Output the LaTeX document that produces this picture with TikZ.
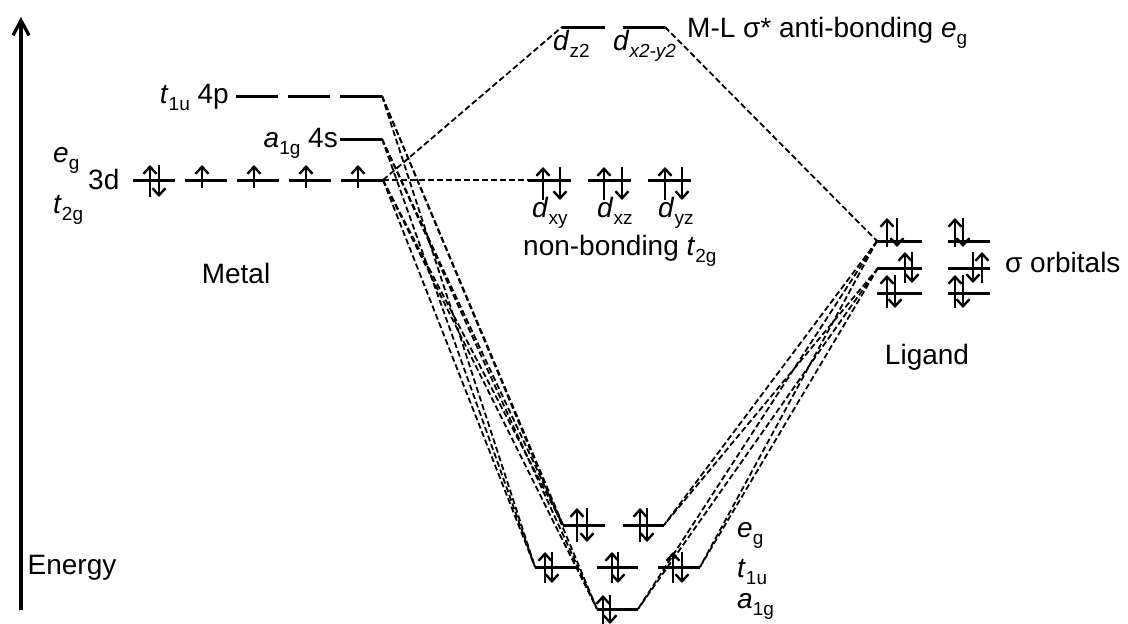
\documentclass[tikz,border=0pt]{standalone}
\usepackage{fontspec}
\setmainfont{Liberation Sans}
\usetikzlibrary{arrows.meta}
\newcommand{\orbsub}[1]{\raisebox{-0.28em}{\fontsize{19}{19}\selectfont #1}}

\begin{document}
\begin{tikzpicture}[x=1pt, y=-1pt,
    font=\fontsize{28}{32}\selectfont,
    lvl/.style={line width=3pt},
    spin/.style={line width=2.4pt, -{Straight Barb[length=7pt,width=13pt]}},
    conn/.style={line width=1.8pt, dash pattern=on 6pt off 3pt},
    lbl/.style={inner sep=0pt}
]
\useasboundingbox (0,0) rectangle (1128,624);

\coordinate (axbot) at (21,610);
\coordinate (axtop) at (21,17);
\draw[line width=3.2pt, -{Straight Barb[length=15pt,width=16pt]}] (axbot) -- (axtop);
\node[lbl] (energy) at (72,568) {Energy};

\foreach \x in {133,185,237,289,341} \draw[lvl] (\x,180) -- ++(42,0);
\foreach \x in {236,288,340} \draw[lvl] (\x,96) -- ++(42,0);
\draw[lvl] (340,139) -- (382,139);
\coordinate (d3) at (383,180);
\coordinate (s4) at (382,139);
\coordinate (p4) at (382,96);
\node[lbl, anchor=base east] (t1ulbl) at (229,103) {\textit{t}\orbsub{1u} 4p};
\node[lbl, anchor=base east] (a1glbl) at (338,147) {\textit{a}\orbsub{1g} 4s};
\node[lbl, anchor=base west] (eglbl) at (53,162) {\textit{e}\orbsub{g}};
\node[lbl, anchor=base west] (dlbl) at (88,189) {3d};
\node[lbl, anchor=base west] (t2glbl) at (53,213) {\textit{t}\orbsub{2g}};
\node[lbl] (metal) at (236,273) {Metal};

\draw[lvl] (562,27) -- (605,27);
\draw[lvl] (623,27) -- (665,27);
\coordinate (dzL) at (562,27);
\coordinate (dxR) at (665,27);
\node[lbl, anchor=base west] (dzlbl) at (553,50) {\textit{d}\orbsub{z2}};
\node[lbl, anchor=base west] (dxlbl) at (613,50) {\textit{d}\orbsub{\textit{x2-y2}}};
\node[lbl, anchor=base west] (mlstar) at (687,37) {M-L σ* anti-bonding \textit{e}\orbsub{g}};

\foreach \x in {528,588,648} \draw[lvl] (\x,180) -- ++(43,0);
\coordinate (nbL) at (528,180);
\node[lbl, anchor=base west] (dxylbl) at (532,217) {\textit{d}\orbsub{xy}};
\node[lbl, anchor=base west] (dxzlbl) at (597,217) {\textit{d}\orbsub{xz}};
\node[lbl, anchor=base west] (dyzlbl) at (658,217) {\textit{d}\orbsub{yz}};
\node[lbl, anchor=base west] (nblbl) at (523,255) {non-bonding \textit{t}\orbsub{2g}};

\foreach \y in {241,268,293} {
  \draw[lvl] (877,\y) -- (922,\y);
  \draw[lvl] (948,\y) -- (990,\y);
}
\coordinate (LtL) at (877,241);
\coordinate (LmL) at (878,268);
\node[lbl, anchor=base west] (sigma) at (1005,272) {σ orbitals};
\node[lbl] (ligand) at (927,357) {Ligand};

\draw[lvl] (563,525) -- (605,525);
\draw[lvl] (623,525) -- (664,525);
\draw[lvl] (535,567) -- (576,567);
\draw[lvl] (597,567) -- (638,567);
\draw[lvl] (658,567) -- (700,567);
\draw[lvl] (597,609) -- (638,609);
\coordinate (ebL) at (563,525);
\coordinate (ebR) at (664,525);
\coordinate (tbL) at (535,567);
\coordinate (tbR) at (700,567);
\coordinate (abL) at (597,609);
\coordinate (abR) at (638,609);
\node[lbl, anchor=base west] (eblbl) at (737,537) {\textit{e}\orbsub{g}};
\node[lbl, anchor=base west] (tblbl) at (737,577) {\textit{t}\orbsub{1u}};
\node[lbl, anchor=base west] (ablbl) at (737,608) {\textit{a}\orbsub{1g}};

\draw[conn] (d3) -- (dzL);
\draw[conn] (d3) -- (nbL);
\foreach \m in {d3,s4,p4}
  \foreach \b in {tbL,ebL,abL}
    \draw[conn] (\m) -- (\b);
\draw[conn] (dxR) -- (LtL);
\foreach \l in {LtL,LmL}
  \foreach \b in {ebR,tbR,abR}
    \draw[conn] (\l) -- (\b);

\foreach \u/\d/\t/\b in {150/159/165/197, 543/560/167/200, 604/622/167/200, 665/682/167/200,
    887/897/218/247, 955/963/218/247, 905/912/252/283, 982/973/252/283, 887/895/275/308,
    955/963/275/308, 577/587/508/542, 640/647/508/542, 545/552/552/583, 612/618/552/583,
    673/682/552/583, 603/610/595/624} {
  \draw[spin] (\u,\b) -- (\u,\t);
  \draw[spin] (\d,\t) -- (\d,\b);
}
\foreach \x in {202,254,306,358} \draw[spin] (\x,188) -- (\x,165);
\end{tikzpicture}
\end{document}
